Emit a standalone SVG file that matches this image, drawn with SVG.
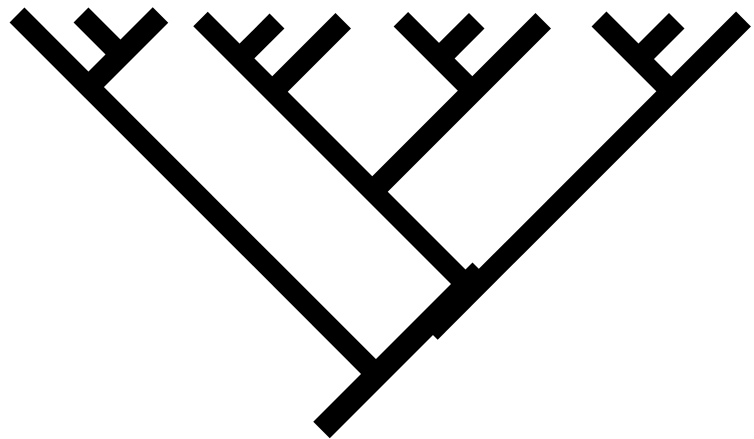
<svg xmlns="http://www.w3.org/2000/svg" width="754" height="439" viewBox="0 0 754 439">
  <style>
    .b { stroke: #000; stroke-linecap: butt; fill: none; }
    .w20 { stroke-width: 20.5; }
    .w21 { stroke-width: 21; }
    .w22 { stroke-width: 22; }
    .w23 { stroke-width: 23.3; }
  </style>
  <rect width="754" height="439" fill="#fff"/>
  <g id="connectors">
    <g id="root">
      <line class="b w23" x1="321.5" y1="430" x2="480.75" y2="270.75"/>
      <line class="b w21" x1="430.25" y1="332.25" x2="743.5" y2="19"/>
    </g>
    <g id="clade-1">
      <line class="b w21" x1="17" y1="15" x2="376.75" y2="374.75"/>
      <line class="b w22" x1="160.5" y1="15" x2="94.75" y2="80.75"/>
      <line class="b w21" x1="81" y1="15" x2="114" y2="48"/>
    </g>
    <g id="clade-2">
      <line class="b w20" x1="200.5" y1="19" x2="465.75" y2="284.25"/>
      <line class="b w21" x1="277" y1="21" x2="239.75" y2="58.25"/>
      <line class="b w22" x1="343.25" y1="20.75" x2="272.75" y2="91.25"/>
    </g>
    <g id="clade-3">
      <line class="b w20" x1="400.85" y1="19.15" x2="472.85" y2="91.15"/>
      <line class="b w22" x1="476.75" y1="20.75" x2="439.6" y2="57.9"/>
      <line class="b w22" x1="543.25" y1="20.75" x2="372.75" y2="191.25"/>
    </g>
    <g id="clade-4">
      <line class="b w21" x1="599" y1="19" x2="671.25" y2="91.25"/>
      <line class="b w22" x1="676.75" y1="20.75" x2="638.75" y2="58.75"/>
    </g>
  </g>
</svg>
